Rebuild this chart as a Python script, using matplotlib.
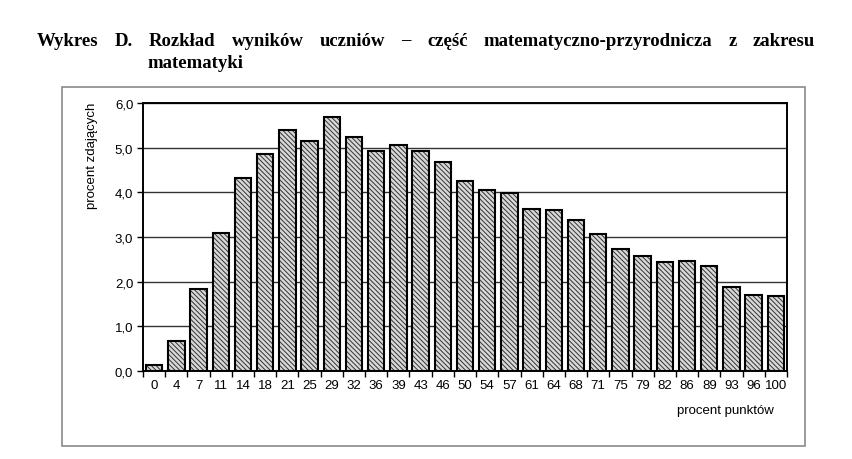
import matplotlib
matplotlib.use("Agg")
import matplotlib.pyplot as plt
from matplotlib.patches import Rectangle
import numpy as np

categories = ["0", "4", "7", "11", "14", "18", "21", "25", "29", "32", "36", "39", "43", "46",
              "50", "54", "57", "61", "64", "68", "71", "75", "79", "82", "86", "89", "93", "96", "100"]
values = [0.14, 0.67, 1.83, 3.08, 4.32, 4.85, 5.39, 5.14, 5.68, 5.25, 4.93, 5.06, 4.93, 4.67,
          4.25, 4.05, 3.99, 3.63, 3.60, 3.37, 3.07, 2.74, 2.58, 2.43, 2.46, 2.35, 1.89, 1.71, 1.69]
yticks = [0, 1, 2, 3, 4, 5, 6]
ytick_labels = ["0,0", "1,0", "2,0", "3,0", "4,0", "5,0", "6,0"]
title_line1 = "Wykres D. Rozkład wyników uczniów – część matematyczno-przyrodnicza z zakresu"
title_line2 = "matematyki"
ylabel = "procent zdających"
xlabel = "procent punktów"

plt.rcParams['hatch.linewidth'] = 0.7
sans = ['Liberation Sans Narrow', 'Liberation Sans', 'DejaVu Sans']

W, H = 852, 460
fig = plt.figure(figsize=(W / 100, H / 100), dpi=100)

# outer frame
fig.patches.append(Rectangle((62 / W, 1 - 447 / H), (805 - 62) / W, (447 - 88) / H,
                             transform=fig.transFigure, fill=False, edgecolor='#8a8a8a',
                             linewidth=1.2))

ax = fig.add_axes([143 / W, 1 - 372 / H, (787 - 143) / W, (372 - 104) / H])
x = np.arange(len(categories))
ax.bar(x, values, width=0.74, color='#d8d8d8', hatch='\\\\\\\\\\\\\\', edgecolor='#333333',
       linewidth=0, zorder=3)
ax.bar(x, values, width=0.74, fill=False, edgecolor='black', linewidth=1.5, zorder=4)

ax.set_xlim(-0.5, len(categories) - 0.5)
ax.set_ylim(0, 6)
ax.set_yticks(yticks)
ax.set_yticklabels(ytick_labels, family=sans, fontsize=9.5)
ax.set_xticks(x)
ax.set_xticklabels(categories, family=sans, fontsize=9.5)
ax.tick_params(axis='x', length=0, pad=6)
ax.set_xticks(np.arange(len(categories) + 1) - 0.5, minor=True)
ax.tick_params(axis='x', which='minor', length=4, width=1, direction='out')
ax.tick_params(axis='y', length=4, width=1, direction='out', pad=3)
ax.yaxis.grid(True, color='#333333', linewidth=1.0, zorder=0)
ax.set_axisbelow(True)
for s in ax.spines.values():
    s.set_linewidth(1.4)
    s.set_color('black')

fig.text(92 / W, 1 - 156 / H, ylabel, rotation=90, ha='center', va='center',
         family=sans, fontsize=9.5)
fig.text(725 / W, 1 - 411 / H, xlabel, ha='center', va='center', family=sans, fontsize=9.5)

# justified title line 1
words = title_line1.split(" ")
x0, x1 = 37, 815
y_line1 = 1 - 41 / H
fig.canvas.draw()
renderer = fig.canvas.get_renderer()
texts = []
widths = []
for w in words:
    t = fig.text(0, y_line1, w, family='Liberation Serif', fontweight='bold', fontsize=13.5,
                 ha='left', va='center')
    texts.append(t)
    widths.append(t.get_window_extent(renderer).width)
gap = ((x1 - x0) - sum(widths)) / (len(words) - 1)
pos = x0
for t, wd in zip(texts, widths):
    t.set_x(pos / W)
    pos += wd + gap
fig.text(147 / W, 1 - 63 / H, title_line2, family='Liberation Serif', fontweight='bold',
         fontsize=13.5, ha='left', va='center')

fig.savefig("out.png", dpi=100)
